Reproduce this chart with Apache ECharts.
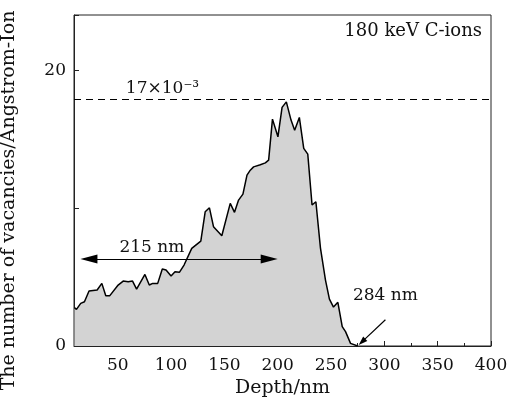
<!DOCTYPE html>
<html><head><meta charset="utf-8">
<script src="https://cdn.jsdelivr.net/npm/echarts@6/dist/echarts.min.js"></script>
<style>html,body{margin:0;padding:0;background:#fff}#c{width:507px;height:400px}</style>
</head><body><div id="c"></div>
<script>
// Data
var depth = [9.4,11.3,15.3,18.8,23.1,30.7,35.1,38.8,42.6,50.4,55.1,59.8,63.9,67.7,75.5,79.6,82.8,87.5,91.8,95.3,100,103.7,107.8,112.2,119.4,127.9,132,136,139.8,147.6,155.5,159.5,163.3,167.4,171.2,174.3,177.4,183.7,188.4,191.5,195.1,200.2,204.1,208.1,212.5,215.9,220.3,224.4,228.2,232.2,235.8,240.1,244.8,248.5,252.3,256.4,260.5,263.6,268.3,275];
var vacancies = [2.78,2.66,3.09,3.21,3.99,4.06,4.54,3.65,3.65,4.42,4.71,4.66,4.71,4.13,5.19,4.42,4.54,4.54,5.58,5.51,5.07,5.38,5.34,5.87,7.08,7.61,9.73,10.02,8.65,7.99,10.34,9.69,10.58,11.01,12.39,12.75,12.99,13.14,13.28,13.48,16.45,15.17,17.3,17.7,16.38,15.65,16.57,14.33,13.91,10.22,10.46,7.1,4.78,3.4,2.82,3.17,1.4,1.04,0.19,0];
var xMajorTicks = [50,100,150,200,250,300,350,400];
var xMinorTicks = [25,75,125,175,225,275,325,375];
var yTickLabels = [0,20];
var refLevel = 17.9;
var refLabel = '17×10⁻³';
var refLabelPos = [92,17.9];
var rangeArrow = [[23,6.3],[192,6.3]];
var rangeLabel = '215 nm';
var rangeLabelPos = [82,6.3];
var endArrow = [[301,1.9],[279,0.3]];
var endLabel = '284 nm';
var endLabelPos = [301,3.65];
var noteText = '180 keV C-ions';

var FONT = 'DejaVu Serif';
var pts = depth.map(function(d,i){return [d, vacancies[i]];});
function lbl(text,pos,dist){
  return {show:true,formatter:text,position:pos,distance:dist,fontFamily:FONT,fontSize:17,color:'#111'};
}
var chart = echarts.init(document.getElementById('c'));
chart.setOption({
  animation:false,
  textStyle:{fontFamily:FONT,color:'#111'},
  grid:{left:74,right:16,top:15,bottom:54,show:true,borderColor:'#222',borderWidth:1,backgroundColor:'transparent',containLabel:false,outerBoundsMode:'none'},
  title:{text:noteText,right:20,top:17,textStyle:{fontFamily:FONT,fontSize:18,fontWeight:'normal',color:'#111'}},
  xAxis:[{
    type:'value',min:9,max:400,
    name:'Depth/nm',nameLocation:'middle',nameGap:30,
    nameTextStyle:{fontFamily:FONT,fontSize:19,color:'#111'},
    axisLine:{lineStyle:{color:'#222',width:1}},
    axisTick:{inside:true,length:5,customValues:xMajorTicks,lineStyle:{color:'#222'}},
    axisLabel:{customValues:xMajorTicks,fontFamily:FONT,fontSize:17,color:'#111',margin:11},
    splitLine:{show:false}
  },{
    type:'value',min:9,max:400,position:'bottom',
    axisLine:{show:false},
    axisTick:{inside:true,length:3,customValues:xMinorTicks,lineStyle:{color:'#222'}},
    axisLabel:{show:false},splitLine:{show:false}
  }],
  yAxis:{
    type:'value',min:0,max:24,interval:10,
    name:'The number of vacancies/Angstrom-Ion',nameLocation:'middle',nameGap:55,
    nameTextStyle:{fontFamily:FONT,fontSize:19,color:'#111',padding:[0,40,0,0]},
    axisLine:{show:true,lineStyle:{color:'#222',width:1}},
    axisTick:{inside:true,length:5,lineStyle:{color:'#222'}},
    axisLabel:{customValues:yTickLabels,fontFamily:FONT,fontSize:17,color:'#111',margin:8},
    splitLine:{show:false}
  },
  series:[{
    type:'line',data:pts,symbol:'none',xAxisIndex:0,
    lineStyle:{color:'#000',width:1.5},
    areaStyle:{color:'#d3d3d3',opacity:1},
    z:2,
    markLine:{
      silent:true,symbol:['none','none'],
      data:[[{coord:[9,refLevel]},{coord:[400,refLevel]}]],
      lineStyle:{color:'#000',type:[7,5],width:1.2},
      label:{show:false}
    },
    markPoint:{
      silent:true,symbol:'circle',symbolSize:1,itemStyle:{color:'rgba(0,0,0,0)'},
      data:[
        {coord:rangeLabelPos,label:lbl(rangeLabel,'top',3)},
        {coord:endLabelPos,label:lbl(endLabel,'inside',0)},
        {coord:refLabelPos,label:lbl(refLabel,'top',2)}
      ]
    }
  },{
    type:'line',data:[],xAxisIndex:0,
    markLine:{
      silent:true,symbol:['triangle','triangle'],symbolSize:[9,17],
      data:[[{coord:rangeArrow[0]},{coord:rangeArrow[1]}]],
      lineStyle:{color:'#000',type:'solid',width:1.2},
      itemStyle:{color:'#000'},
      label:{show:false}
    }
  },{
    type:'line',data:[],xAxisIndex:0,
    markLine:{
      silent:true,symbol:['none','triangle'],symbolSize:[6,9],
      data:[[{coord:endArrow[0]},{coord:endArrow[1]}]],
      lineStyle:{color:'#000',type:'solid',width:1.2},
      itemStyle:{color:'#000'},
      label:{show:false}
    }
  }]
});
</script></body></html>
